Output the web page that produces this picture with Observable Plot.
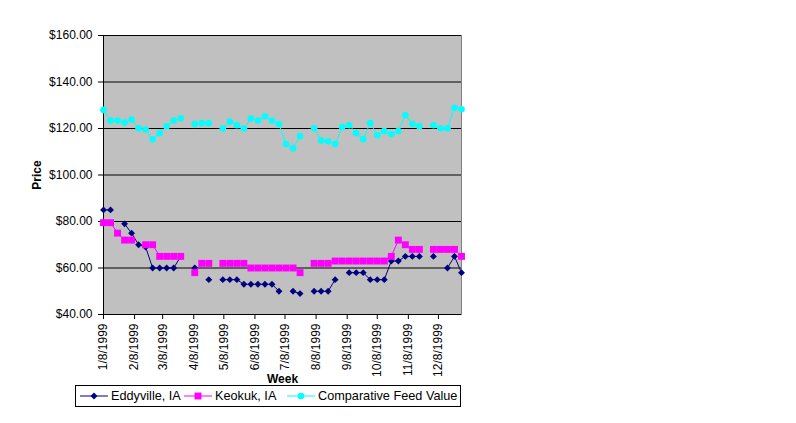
<!DOCTYPE html>
<html>
<head>
<meta charset="utf-8">
<script src="https://cdn.jsdelivr.net/npm/d3@7"></script>
<script src="https://cdn.jsdelivr.net/npm/@observablehq/plot@0.6"></script>
<style>
  body { margin: 0; background: #fff; }
  #chart { position: relative; width: 796px; height: 423px; font-family: "Liberation Sans", Arial, sans-serif; }
  #chart > svg { position: absolute; left: 0; top: 0; }
  g[aria-label="y-axis label"] text, g[aria-label="x-axis label"] text { font-weight: bold; }
  #legend {
    position: absolute; left: 75px; top: 385px; width: 386px; height: 22px;
    border: 1px solid #000; background: #fff; box-sizing: border-box;
    font-size: 12.7px; color: #000; white-space: nowrap;
  }
  #legend .item { position: absolute; top: 0; height: 20px; display: flex; align-items: center; }
  #legend .item svg { margin-right: 3px; }
</style>
</head>
<body>
<div id="chart"></div>
<script>
// Weekly price observations, 1999
const weeks = [
  "1/8/1999","1/15/1999","1/22/1999","1/29/1999",
  "2/5/1999","2/12/1999","2/19/1999","2/26/1999",
  "3/5/1999","3/12/1999","3/19/1999","3/26/1999",
  "4/2/1999","4/9/1999","4/16/1999","4/23/1999","4/30/1999",
  "5/7/1999","5/14/1999","5/21/1999","5/28/1999",
  "6/4/1999","6/11/1999","6/18/1999","6/25/1999",
  "7/2/1999","7/9/1999","7/16/1999","7/23/1999","7/30/1999",
  "8/6/1999","8/13/1999","8/20/1999","8/27/1999",
  "9/3/1999","9/10/1999","9/17/1999","9/24/1999",
  "10/1/1999","10/8/1999","10/15/1999","10/22/1999","10/29/1999",
  "11/5/1999","11/12/1999","11/19/1999","11/26/1999",
  "12/3/1999","12/10/1999","12/17/1999","12/24/1999","12/31/1999"
];

const eddyville = [
  85, 85, null, 79, 75, 70, 69, 60, 60, 60, 60, 65,
  null, 60, null, 55, null, 55, 55, 55, 53, 53, 53, 53, 53,
  50, null, 50, 49, null, 50, 50, 50, 55, null, 58, 58, 58,
  55, 55, 55, 63, 63, 65, 65, 65, null, 65, null, 60, 65, 58
];

const keokuk = [
  79.5, 79.5, 75, 72, 72, null, 70, 70, 65, 65, 65, 65,
  null, 58, 62, 62, null, 62, 62, 62, 62, 60, 60, 60, 60,
  60, 60, 60, 58, null, 62, 62, 62, 63, 63, 63, 63, 63,
  63, 63, 63, 65, 72, 70, 68, 68, null, 68, 68, 68, 68, 65
];

const feedValue = [
  128, 123.4, 123.4, 122.6, 123.9, 120.1, 119.6, 115.4, 118, 121, 123.4, 124.4,
  null, 121.9, 122.3, 122.3, null, 120, 123, 121.4, 120, 124.3, 123.4, 125.3, 123.4,
  121.9, 113.3, 111.5, 116.7, null, 120.1, 114.8, 114.5, 113.3, 120.6, 121.4, 118, 115.4,
  122.3, 117.1, 118.9, 117.6, 118.9, 125.7, 121.9, 121, null, 121.4, 120.1, 120.1, 128.9, 128.3
];

const seriesNames = ["Eddyville, IA", "Keokuk, IA", "Comparative Feed Value"];
const seriesColors = ["#000080", "#ff00ff", "#00ffff"];
const seriesSymbols = ["diamond2", "square", "circle"];

const xTickLabels = [
  "1/8/1999","2/8/1999","3/8/1999","4/8/1999","5/8/1999","6/8/1999",
  "7/8/1999","8/8/1999","9/8/1999","10/8/1999","11/8/1999","12/8/1999"
];
const yTicks = [40, 60, 80, 100, 120, 140, 160];

const parse = d3.utcParse("%m/%d/%Y");
const dates = weeks.map(parse);
const xTicks = xTickLabels.map(parse);
const fmtDate = d => `${d.getUTCMonth() + 1}/${d.getUTCDate()}/${d.getUTCFullYear()}`;
const fmtPrice = v => "$" + v.toFixed(2);

const rows = (values) => values.map((v, i) => ({date: dates[i], value: v}));
const sizes = [3.1, 3.9, 3.3];

const seriesMarks = [eddyville, keokuk, feedValue].flatMap((vals, k) => [
  Plot.line(rows(vals), {x: "date", y: "value", stroke: seriesColors[k], strokeWidth: 1}),
  Plot.dot(rows(vals), {x: "date", y: "value", fill: seriesColors[k], stroke: "none", symbol: seriesSymbols[k], r: sizes[k]})
]);

const chart = Plot.plot({
  width: 796,
  height: 423,
  marginLeft: 103,
  marginRight: 335,
  marginTop: 35,
  marginBottom: 109,
  style: {fontFamily: '"Liberation Sans", Arial, sans-serif', fontSize: "12px", color: "#000", background: "transparent"},
  x: {type: "utc", domain: [dates[0], dates[dates.length - 1]]},
  y: {domain: [40, 160]},
  marks: [
    Plot.frame({fill: "#c0c0c0", stroke: "#808080"}),
    Plot.ruleY(yTicks, {stroke: "#000", strokeWidth: 1}),
    Plot.ruleX([dates[0]], {stroke: "#000", strokeWidth: 1}),
    Plot.axisY({ticks: yTicks, tickFormat: fmtPrice, tickSize: 5, tickPadding: 6,
      label: "Price", labelArrow: "none", labelAnchor: "center", labelOffset: 71}),
    Plot.axisX({ticks: xTicks, tickFormat: fmtDate, tickRotate: -90, tickSize: 5, tickPadding: 4,
      label: "Week", labelArrow: "none", labelAnchor: "center", labelOffset: 68}),
    ...seriesMarks
  ]
});

const root = document.getElementById("chart");
root.appendChild(chart);

// Legend box below the plot: swatch (line + marker) followed by series name
const legend = document.createElement("div");
legend.id = "legend";
const itemLeft = [4, 108, 211];
seriesNames.forEach((name, k) => {
  const item = document.createElement("div");
  item.className = "item";
  item.style.left = itemLeft[k] + "px";
  const sw = d3.create("svg").attr("width", 28).attr("height", 12);
  sw.append("line").attr("x1", 0).attr("x2", 28).attr("y1", 6).attr("y2", 6)
    .attr("stroke", seriesColors[k]).attr("stroke-width", 1);
  const sym = d3.symbol(d3[{diamond2: "symbolDiamond2", square: "symbolSquare", circle: "symbolCircle"}[seriesSymbols[k]]],
    Math.PI * sizes[k] * sizes[k]);
  sw.append("path").attr("d", sym()).attr("transform", "translate(14,6)").attr("fill", seriesColors[k]);
  item.appendChild(sw.node());
  const label = document.createElement("span");
  label.textContent = name;
  item.appendChild(label);
  legend.appendChild(item);
});
root.appendChild(legend);
</script>
</body>
</html>
